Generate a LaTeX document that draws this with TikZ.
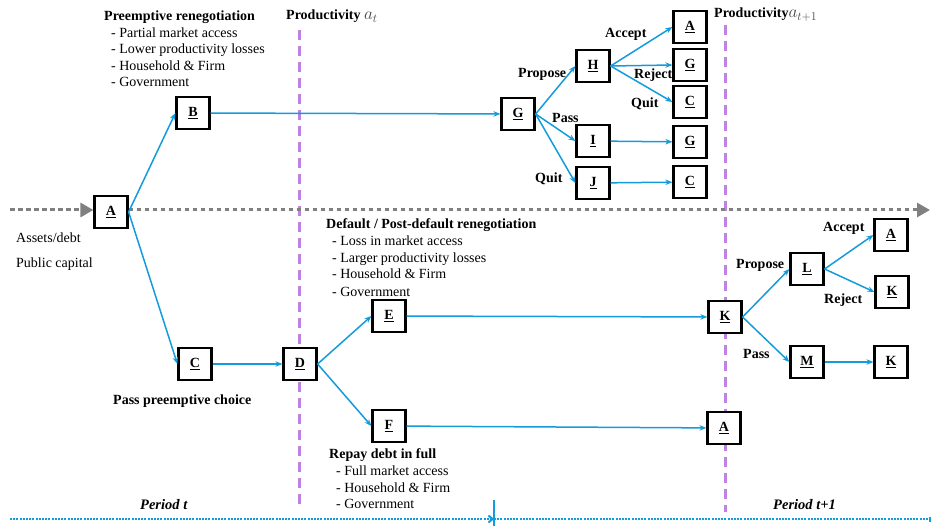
\documentclass[tikz,border=0pt]{standalone}
\usepackage{fontspec}
\setmainfont{Liberation Serif}
\usetikzlibrary{arrows.meta}
\definecolor{cblue}{RGB}{20,155,220}
\definecolor{cpurple}{RGB}{190,130,228}
\definecolor{cgray}{RGB}{128,128,128}
\definecolor{cmath}{RGB}{70,70,70}
\newcommand\ulet[1]{\underline{#1}}
\newcommand\prodvar[1]{{\color{cmath}\fontsize{17}{17}\selectfont$#1$}}
\begin{document}
\begin{tikzpicture}[x=1pt,y=-1pt,
 box/.style={draw,line width=2.2pt,fill=white,minimum width=33pt,minimum height=32pt,inner sep=0pt,font=\fontsize{14}{14}\selectfont\bfseries},
 lab/.style={anchor=base west,inner sep=0pt,font=\fontsize{14}{16}\selectfont\bfseries},
 txt/.style={anchor=base west,inner sep=0pt,font=\fontsize{14}{16}\selectfont},
 per/.style={anchor=base west,inner sep=0pt,font=\fontsize{14.5}{16}\selectfont\bfseries\itshape},
 con/.style={cblue,line width=1.5pt,-{Stealth[length=7pt,width=5.5pt]}},
 pdash/.style={cpurple,line width=3pt,dash pattern=on 10pt off 6pt},
 gdot/.style={cgray,line width=3pt,dash pattern=on 4.5pt off 3.5pt},
 bdot/.style={cblue,line width=2pt,dash pattern=on 2pt off 1.2pt}]
\useasboundingbox (0,0) rectangle (933,526);
% period dashed lines
\coordinate (p1a) at (299,30); \coordinate (p1b) at (299,505);
\coordinate (p2a) at (725,25); \coordinate (p2b) at (725,512);
\draw[pdash] (p1a) -- (p1b);
\draw[pdash] (p2a) -- (p2b);
% boxes
\node[box] (A) at (111,212) {\ulet{A}};
\node[box] (B) at (193,113) {\ulet{B}};
\node[box] (C) at (195,364) {\ulet{C}};
\node[box] (D) at (300,364) {\ulet{D}};
\node[box] (G) at (518,114) {\ulet{G}};
\node[box] (H) at (593,66) {\ulet{H}};
\node[box] (I) at (593,141) {\ulet{I}};
\node[box] (J) at (593,183) {\ulet{J}};
\node[box] (HA) at (690,27) {\ulet{A}};
\node[box] (HG) at (690,65) {\ulet{G}};
\node[box] (HC) at (690,102) {\ulet{C}};
\node[box] (IG) at (690,142) {\ulet{G}};
\node[box] (JC) at (690,182) {\ulet{C}};
\node[box] (E) at (389,316) {\ulet{E}};
\node[box] (F) at (389,426) {\ulet{F}};
\node[box] (K) at (725,317) {\ulet{K}};
\node[box] (FA) at (724,428) {\ulet{A}};
\node[box] (L) at (807,269) {\ulet{L}};
\node[box] (M) at (807,362) {\ulet{M}};
\node[box] (LA) at (891,235) {\ulet{A}};
\node[box] (LK) at (892,292) {\ulet{K}};
\node[box] (MK) at (891,362) {\ulet{K}};
% gray dotted state line
\coordinate (g0) at (10,210); \coordinate (g1) at (930,210);
\draw[gdot,-{Triangle[length=13pt,width=14pt]}] (g0) -- (A.west |- g0);
\draw[gdot,-{Triangle[length=13pt,width=14pt]}] (A.east |- g1) -- (g1);
% connectors
\draw[con] (A.east) -- (B.west);
\draw[con] (A.east) -- (C.west);
\draw[con] (C) -- (D);
\draw[con] (B) -- (G);
\draw[con] (G.east) -- (H.west);
\draw[con] (G.east) -- (I.west);
\draw[con] (G.east) -- (J.west);
\draw[con] (H.east) -- (HA.west);
\draw[con] (H.east) -- (HG.west);
\draw[con] (H.east) -- (HC.west);
\draw[con] (I) -- (IG);
\draw[con] (J) -- (JC);
\draw[con] (D.east) -- (E.west);
\draw[con] (D.east) -- (F.west);
\draw[con] (E) -- (K);
\draw[con] (F) -- (FA);
\draw[con] (K.east) -- (L.west);
\draw[con] (K.east) -- (M.west);
\draw[con] (L.east) -- (LA.west);
\draw[con] (L.east) -- (LK.west);
\draw[con] (M) -- (MK);
% text blocks
\node[lab] (pr0) at (104,21) {Preemptive renegotiation};
\node[txt] (pr1) at (111,38) {- Partial market access};
\node[txt] (pr2) at (111,54) {- Lower productivity losses};
\node[txt] (pr3) at (111,71) {- Household \& Firm};
\node[txt] (pr4) at (111,87) {- Government};
\node[lab] (prod1) at (286,20) {Productivity \prodvar{a_t}};
\node[lab] (prod2) at (714,18) {Productivity\prodvar{a_{t+1}}};
\node[txt] (as1) at (16,243) {Assets/debt};
\node[txt] (as2) at (16,268) {Public capital};
\node[lab] (pass) at (113,404) {Pass preemptive choice};
\node[lab] (df0) at (326,229) {Default / Post-default renegotiation};
\node[txt] (df1) at (332,246) {- Loss in market access};
\node[txt] (df2) at (332,263) {- Larger productivity losses};
\node[txt] (df3) at (332,279) {- Household \& Firm};
\node[txt] (df4) at (332,296) {- Government};
\node[lab] (rp0) at (329,458) {Repay debt in full};
\node[txt] (rp1) at (336,475) {- Full market access};
\node[txt] (rp2) at (336,492) {- Household \& Firm};
\node[txt] (rp3) at (336,508) {- Government};
% branch labels
\node[lab] (l1) at (518,78) {Propose};
\node[lab] (l2) at (605,38) {Accept};
\node[lab] (l3) at (634,79) {Reject};
\node[lab] (l4) at (631,108) {Quit};
\node[lab] (l5) at (552,123) {Pass};
\node[lab] (l6) at (535,183) {Quit};
\node[lab] (l7) at (823,232) {Accept};
\node[lab] (l8) at (736,269) {Propose};
\node[lab] (l9) at (824,303) {Reject};
\node[lab] (l10) at (743,358) {Pass};
% periods
\node[per] (pt) at (140,509) {Period t};
\node[per] (pt1) at (773,509) {Period t+1};
\coordinate (b0) at (10,519); \coordinate (bm) at (494,519);
\coordinate (b1) at (931,519);
\coordinate (tk0) at (494,500); \coordinate (tk1) at (494,526);
\draw[bdot,-{Straight Barb[length=4pt,width=7pt]}] (b0) -- (bm);
\draw[bdot,-{Bar[width=5pt]}] (bm) -- (b1);
\draw[cblue,line width=1.5pt] (tk0) -- (tk1);
\end{tikzpicture}
\end{document}
